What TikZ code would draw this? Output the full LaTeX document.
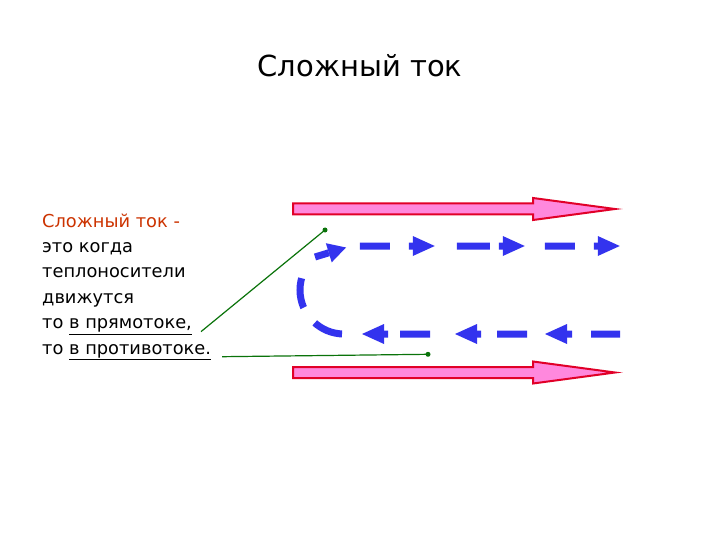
\documentclass[tikz,border=0pt]{standalone}
\usepackage{fontspec}
\setmainfont{DejaVu Sans}
\usetikzlibrary{arrows.meta,decorations.markings}
\definecolor{flowblue}{RGB}{51,51,238}
\definecolor{pipepink}{RGB}{255,136,221}
\definecolor{pipered}{RGB}{225,0,40}
\definecolor{leadgreen}{RGB}{10,115,10}
\definecolor{termred}{RGB}{204,51,0}
\tikzset{
    pipe/.style={draw=pipered, fill=pipepink, line width=2pt}, % красная стрелка-поток
    line txt/.style={anchor=base west, inner sep=0pt, font=\fontsize{17.8}{21}\selectfont}, % строка текста
    leader/.style={draw=leadgreen, line width=1.2pt}, % выноска
    gdot/.style={circle, fill=leadgreen, inner sep=0pt, minimum size=5pt}, % точка выноски
    bend tip/.style={color=flowblue, line width=7pt, -{Triangle[length=18pt, width=20pt, line width=0pt]}}, % стрелка на повороте
    flow/.style={color=flowblue, line width=7pt,
        dash pattern=on 0pt off 2pt on 29pt off 19pt on 7pt off 38pt on 30pt off 16pt on 7pt off 44pt
            on 30pt off 12pt on 7pt off 39pt on 30pt off 19pt on 30pt off 73pt
            on 30pt off 19pt on 7pt off 41pt on 33pt off 9pt on 7pt off 39pt on 30pt off 19pt on 7pt off 50pt,
        postaction={decorate},
        decoration={markings,
            mark=at position 77pt with {\arrow{Triangle[length=22pt, width=20pt, line width=0pt]}},
            mark=at position 167pt with {\arrow{Triangle[length=22pt, width=20pt, line width=0pt]}},
            mark=at position 260pt with {\arrow{Triangle[length=22pt, width=20pt, line width=0pt]}},
            mark=at position 507pt with {\arrow{Triangle[length=22pt, width=20pt, line width=0pt]}},
            mark=at position 597pt with {\arrow{Triangle[length=22pt, width=20pt, line width=0pt]}},
            mark=at position 692pt with {\arrow{Triangle[length=22pt, width=20pt, line width=0pt]}}}}
}

\begin{document}
\begin{tikzpicture}[x=1pt, y=-1pt]
    \useasboundingbox[fill=white] (0,0) rectangle (720,540);

    \node[anchor=base, font=\fontsize{29}{34}\selectfont] (title) at (360,77) {Сложный ток};

    % две красные стрелки
    \foreach \y in {209,372.5} {
        \draw[pipe] (293,\y-5.5) -- (533,\y-5.5) -- (533,\y-11) -- (615,\y)
            -- (533,\y+11) -- (533,\y+5.5) -- (293,\y+5.5) -- cycle;
    }

    % синий пунктир с поворотом
    \draw[flow] (622,334) -- (344,334) arc[start angle=90, end angle=270, radius=44] -- (622,246);
    \draw[bend tip] (315,257) -- (346,247.5);

    \node[line txt, text=termred] (l1) at (42,227) {Сложный ток -};
    \node[line txt] (l2) at (42,252.4) {это когда};
    \node[line txt] (l3) at (42,277.8) {теплоносители};
    \node[line txt] (l4) at (42,303.2) {движутся};
    \node[line txt] (l5) at (42,328.6) {то \underline{в прямотоке,}};
    \node[line txt] (l6) at (42,354) {то \underline{в противотоке.}};

    \node[gdot] (upper) at (325,230) {};
    \node[gdot] (lower) at (428,354.3) {};
    \draw[leader] ([xshift=9pt, yshift=-3pt]l5.base east) -- (upper.center);
    \draw[leader] ([xshift=11pt, yshift=-2.7pt]l6.base east) -- (lower.center);
\end{tikzpicture}
\end{document}
